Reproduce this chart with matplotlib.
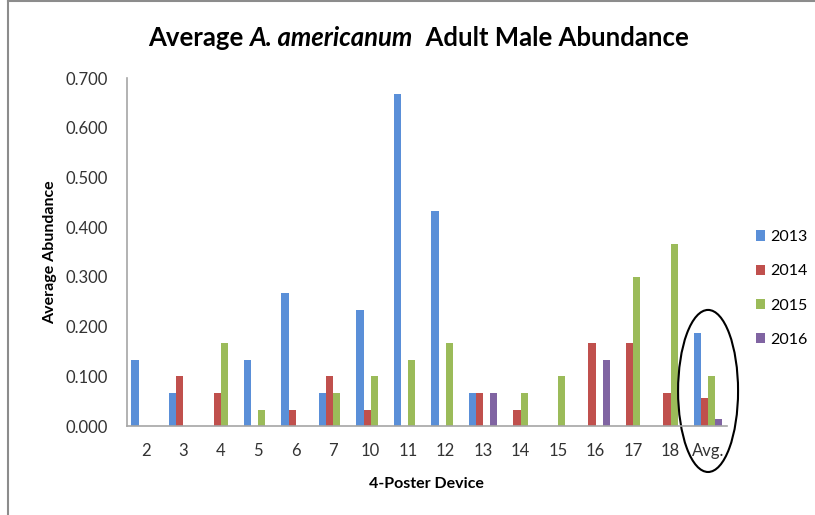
import numpy as np
import matplotlib
matplotlib.use("Agg")
import matplotlib.pyplot as plt
from matplotlib.patches import Ellipse
from matplotlib.lines import Line2D

plt.rcParams['font.family'] = ['Lato', 'DejaVu Sans']

devices = ['2', '3', '4', '5', '6', '7', '10', '11', '12', '13', '14', '15', '16', '17', '18', 'Avg.']
y2013 = [0.133, 0.067, 0, 0.133, 0.267, 0.067, 0.233, 0.667, 0.433, 0.067, 0, 0, 0, 0, 0, 0.188]
y2014 = [0, 0.100, 0.067, 0, 0.033, 0.100, 0.033, 0, 0, 0.067, 0.033, 0, 0.167, 0.167, 0.067, 0.056]
y2015 = [0, 0, 0.167, 0.033, 0, 0.067, 0.100, 0.133, 0.167, 0, 0.067, 0.100, 0, 0.300, 0.367, 0.101]
y2016 = [0, 0, 0, 0, 0, 0, 0, 0, 0, 0.067, 0, 0, 0.133, 0, 0, 0.014]
years = ['2013', '2014', '2015', '2016']
colors = ['#5A8FD8', '#C0504D', '#9BBB59', '#8064A2']

fig = plt.figure(figsize=(8.15, 5.15), dpi=100)
ax = fig.add_axes([0.1558, 0.1728, 0.736, 0.6757])

x = np.arange(len(devices))
w = 0.19
for i, (vals, lab, c) in enumerate(zip([y2013, y2014, y2015, y2016], years, colors)):
    ax.bar(x + (i - 1.5) * w, vals, width=w, color=c, label=lab)

ax.set_xlim(-0.5, len(devices) - 0.5)
ax.set_ylim(0, 0.7)
ax.set_yticks(np.arange(0, 0.71, 0.1))
ax.set_yticklabels(['%.3f' % v for v in np.arange(0, 0.71, 0.1)])
ax.set_xticks(x)
ax.set_xticklabels(devices)
ax.tick_params(length=0, labelsize=12, colors='#333333')
ax.tick_params(axis='x', pad=12)
ax.tick_params(axis='y', pad=14)
for s in ['top', 'right']:
    ax.spines[s].set_visible(False)
for s in ['left', 'bottom']:
    ax.spines[s].set_color('#A6A6A6')
    ax.spines[s].set_linewidth(1.2)

ax.set_xlabel('4-Poster Device', fontsize=11.5, fontweight='bold', labelpad=13)
ax.set_ylabel('Average Abundance', fontsize=11.5, fontweight='bold', labelpad=6)

# title in three pieces so the species name can be bold italic
parts = [('Average ', 'normal'), ('A. americanum', 'italic'), ('  Adult Male Abundance', 'normal')]
r = fig.canvas.get_renderer()
texts = [fig.text(0, 0.926, s, fontsize=18.5, fontweight='bold', style=st, va='center')
         for s, st in parts]
widths = [t.get_window_extent(r).width / fig.bbox.width for t in texts]
xpos = 0.513 - sum(widths) / 2
for t, wd in zip(texts, widths):
    t.set_x(xpos)
    xpos += wd

ax.legend(loc='upper left', bbox_to_anchor=(1.035, 0.586), frameon=False, fontsize=11.5,
          borderpad=0, handlelength=0.6, handleheight=0.6, handletextpad=0.3,
          labelspacing=1.27)

ax.add_patch(Ellipse((15.0, 0.0705), 1.6, 0.326, fill=False, edgecolor='black',
                     linewidth=1.5, clip_on=False))

fig.add_artist(Line2D([0.0098, 0.0098], [0, 0.998], color='#8C8C8C', linewidth=1.5))
fig.add_artist(Line2D([0.0098, 1.0], [0.998, 0.998], color='#8C8C8C', linewidth=1.5))

fig.savefig('out.png', dpi=100)
